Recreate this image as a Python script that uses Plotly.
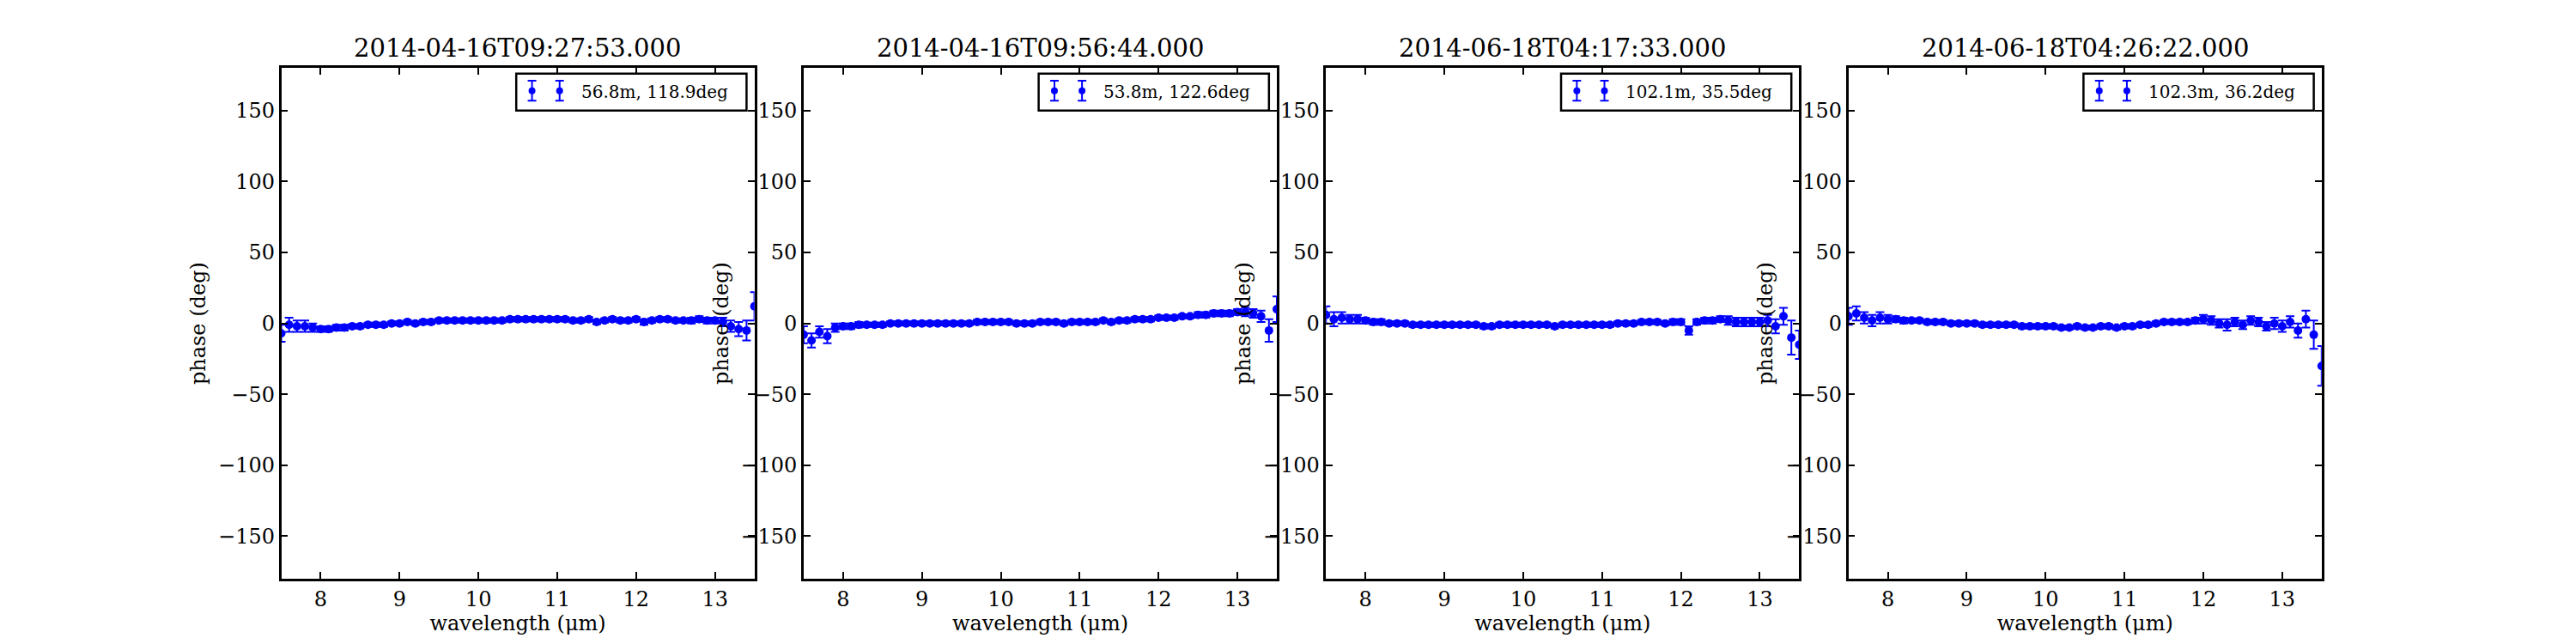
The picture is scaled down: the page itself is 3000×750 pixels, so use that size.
import plotly.graph_objects as go

wavelength = [7.5, 7.6, 7.7, 7.8, 7.9, 8.0, 8.1, 8.2, 8.3, 8.4, 8.5, 8.6, 8.7, 8.8, 8.9,
              9.0, 9.1, 9.2, 9.3, 9.4, 9.5, 9.6, 9.7, 9.8, 9.9, 10.0, 10.1, 10.2, 10.3, 10.4,
              10.5, 10.6, 10.7, 10.8, 10.9, 11.0, 11.1, 11.2, 11.3, 11.4, 11.5, 11.6, 11.7, 11.8, 11.9,
              12.0, 12.1, 12.2, 12.3, 12.4, 12.5, 12.6, 12.7, 12.8, 12.9, 13.0, 13.1, 13.2, 13.3, 13.4, 13.5]

titles = ['2014-04-16T09:27:53.000', '2014-04-16T09:56:44.000',
          '2014-06-18T04:17:33.000', '2014-06-18T04:26:22.000']
labels = ['56.8m, 118.9deg', '53.8m, 122.6deg', '102.1m, 35.5deg', '102.3m, 36.2deg']

phase1 = [-7, -1, -2, -2, -3, -4, -4, -3, -3, -2, -2, -1, -1, -1, 0,
          0, 1, 0, 1, 1, 2, 2, 2, 2, 2, 2, 2, 2, 2, 3,
          3, 3, 3, 3, 3, 3, 3, 2, 2, 3, 1, 2, 3, 2, 2,
          3, 1, 2, 3, 3, 2, 2, 2, 3, 2, 2, 1, -2, -4, -5, 12]
err1 = [6, 5, 4, 4, 3, 2, 2, 2, 2, 1.5, 1.5, 1.5, 1.5, 1.5, 1.5,
        1.5, 1.5, 1.5, 1.5, 1.5, 1.5, 1.5, 1.5, 1.5, 1.5, 1.5, 1.5, 1.5, 1.5, 1.5,
        1.5, 1.5, 1.5, 1.5, 1.5, 1.5, 1.5, 1.5, 1.5, 1.5, 1.5, 1.5, 1.5, 1.5, 1.5,
        1.5, 2, 1.5, 1.5, 1.5, 1.5, 1.5, 2, 2, 2, 2, 3, 4, 5, 7, 10]

phase2 = [-8, -12, -6, -9, -3, -2, -2, -1, -1, -1, -1, 0, 0, 0, 0,
          0, 0, 0, 0, 0, 0, 0, 1, 1, 1, 1, 1, 0, 0, 0,
          1, 1, 1, 0, 1, 1, 1, 1, 2, 1, 2, 2, 3, 3, 3,
          4, 4, 4, 5, 5, 6, 6, 7, 7, 7, 8, 8, 7, 5, -5, 10]
err2 = [6, 5, 4, 5, 3, 2, 2, 2, 1.5, 1.5, 1.5, 1.5, 1.5, 1.5, 1.5,
        1.5, 1.5, 1.5, 1.5, 1.5, 1.5, 1.5, 1.5, 1.5, 1.5, 1.5, 1.5, 1.5, 1.5, 1.5,
        1.5, 1.5, 1.5, 1.5, 1.5, 1.5, 1.5, 1.5, 1.5, 1.5, 1.5, 1.5, 1.5, 1.5, 1.5,
        1.5, 1.5, 1.5, 1.5, 1.5, 2, 2, 2, 2, 2, 2, 3, 3, 4, 8, 9]

phase3 = [6, 3, 4, 3, 3, 2, 1, 1, 0, 0, 0, -1, -1, -1, -1,
          -1, -1, -1, -1, -1, -2, -2, -1, -1, -1, -1, -1, -1, -1, -2,
          -1, -1, -1, -1, -1, -1, -1, 0, 0, 0, 1, 1, 1, 0, 1,
          1, -5, 1, 2, 2, 3, 2, 1, 1, 1, 1, 2, -2, 5, -10, -15]
err3 = [6, 5, 4, 3, 3, 2, 2, 2, 1.5, 1.5, 1.5, 1.5, 1.5, 1.5, 1.5,
        1.5, 1.5, 1.5, 1.5, 1.5, 1.5, 1.5, 1.5, 1.5, 1.5, 1.5, 1.5, 1.5, 1.5, 1.5,
        1.5, 1.5, 1.5, 1.5, 1.5, 1.5, 1.5, 1.5, 1.5, 1.5, 1.5, 1.5, 1.5, 1.5, 2,
        2, 3, 2, 2, 2, 2, 3, 3, 3, 3, 3, 4, 5, 6, 12, 10]

phase4 = [5, 7, 4, 2, 4, 3, 3, 2, 2, 2, 1, 1, 1, 0, 0,
          0, 0, -1, -1, -1, -1, -1, -2, -2, -2, -2, -2, -3, -3, -2,
          -3, -3, -2, -2, -3, -2, -2, -1, -1, 0, 1, 1, 1, 1, 2,
          3, 2, 0, -1, 1, -1, 2, 1, -2, 0, -2, 1, -5, 3, -8, -30]
err4 = [6, 5, 4, 4, 4, 3, 2, 2, 1.5, 1.5, 1.5, 1.5, 1.5, 1.5, 1.5,
        1.5, 1.5, 1.5, 1.5, 1.5, 1.5, 1.5, 1.5, 1.5, 1.5, 1.5, 1.5, 1.5, 1.5, 1.5,
        1.5, 1.5, 1.5, 1.5, 1.5, 1.5, 1.5, 1.5, 1.5, 1.5, 1.5, 1.5, 1.5, 1.5, 2,
        3, 3, 3, 4, 3, 3, 3, 3, 3, 4, 4, 4, 5, 6, 10, 14]

phases = [phase1, phase2, phase3, phase4]
errs = [err1, err2, err3, err4]

font = 'DejaVu Serif'
fig = go.Figure()

for i in range(4):
    n = '' if i == 0 else str(i + 1)
    xa = 'x' + n
    ya = 'y' + n
    fig.add_trace(go.Scatter(x=wavelength, y=phases[i], mode='markers',
                             marker=dict(color='blue', size=10),
                             error_y=dict(type='data', array=errs[i], color='blue', thickness=2, width=5),
                             xaxis=xa, yaxis=ya, showlegend=False))
    # legend sample (two markers like matplotlib's numpoints=2)
    fig.add_trace(go.Scatter(x=[10.68, 11.03], y=[164, 164], mode='markers',
                             marker=dict(color='blue', size=8),
                             error_y=dict(type='constant', value=7, color='blue', thickness=2, width=5),
                             xaxis=xa, yaxis=ya, showlegend=False, hoverinfo='skip'))
    fig.add_shape(type='rect', xref=xa, yref=ya, x0=10.48, x1=13.4, y0=150, y1=176,
                  line=dict(color='black', width=2.5), fillcolor='rgba(0,0,0,0)')
    fig.add_annotation(x=11.28, y=163, xref=xa, yref=ya, text=labels[i], showarrow=False,
                       xanchor='left', font=dict(family=font, size=20, color='black'))
    left = 0.1065 + i * 0.2028
    axis_common = dict(showline=True, linecolor='black', linewidth=2.5, mirror='ticks',
                       ticks='inside', ticklen=8, tickwidth=1.5, tickcolor='black',
                       showgrid=False, zeroline=False,
                       tickfont=dict(family=font, size=24, color='black'))
    fig.layout['xaxis' + n] = dict(domain=[left, left + 0.1837], range=[7.5, 13.5],
                                  tickvals=[8, 9, 10, 11, 12, 13], anchor=ya,
                                  title=dict(text='wavelength (μm)', standoff=6,
                                             font=dict(family=font, size=24, color='black')),
                                  **axis_common)
    fig.layout['yaxis' + n] = dict(domain=[0.112, 0.905], range=[-180, 180],
                                  tickvals=[-150, -100, -50, 0, 50, 100, 150], anchor=xa,
                                  title=dict(text='phase (deg)', standoff=8,
                                             font=dict(family=font, size=24, color='black')),
                                  **axis_common)
    fig.add_annotation(x=left + 0.0918, y=0.91, xref='paper', yref='paper', text=titles[i],
                       showarrow=False, xanchor='center', yanchor='bottom',
                       font=dict(family=font, size=29, color='black'))

fig.update_layout(width=3000, height=750, margin=dict(l=0, r=0, t=0, b=0),
                  paper_bgcolor='white', plot_bgcolor='white')
fig.write_html('out.html')
